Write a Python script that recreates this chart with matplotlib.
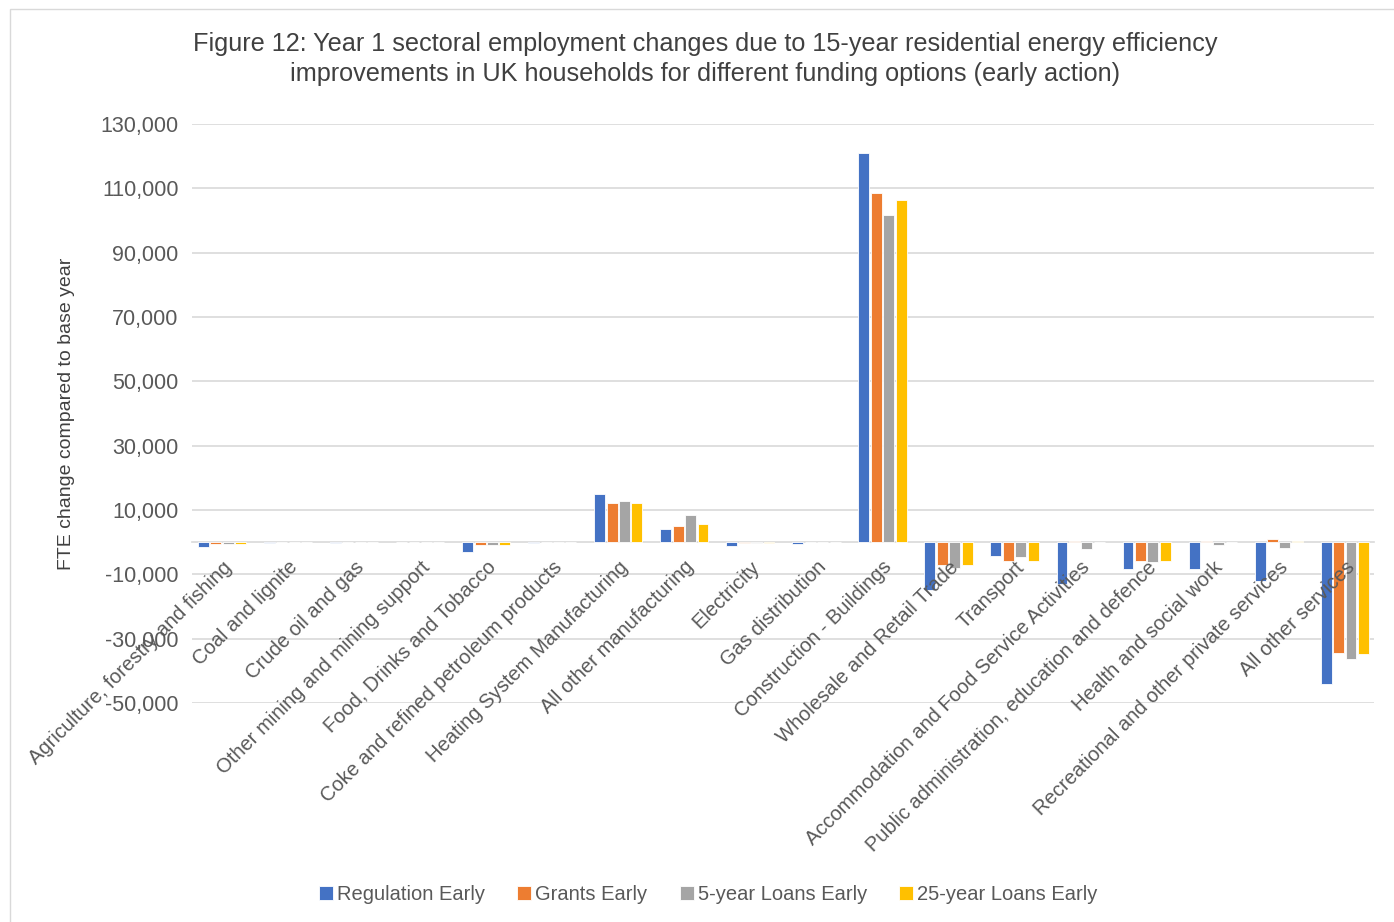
import numpy as np
import matplotlib.pyplot as plt
from matplotlib.patches import Rectangle

plt.rcParams['font.family'] = ['Liberation Sans', 'DejaVu Sans']

# sectors and values (FTE change vs base year)
sectors = ["Agriculture, forestry and fishing", "Coal and lignite", "Crude oil and gas",
           "Other mining and mining support", "Food, Drinks and Tobacco",
           "Coke and refined petroleum products", "Heating System Manufacturing",
           "All other manufacturing", "Electricity", "Gas distribution",
           "Construction - Buildings", "Wholesale and Retail Trade", "Transport",
           "Accommodation and Food Service Activities",
           "Public administration, education and defence", "Health and social work",
           "Recreational and other private services", "All other services"]

regulation = [-1500, -300, -200, 200, -3000, -200, 15100, 4000, -1100, -500,
              121100, -14900, -4400, -13000, -8400, -8200, -12000, -44000]
grants = [-600, 0, 0, 0, -800, 0, 12100, 4900, -300, 0,
          108700, -7000, -6000, 500, -5800, 400, 1100, -34600]
loans5 = [-700, 0, 0, 0, -900, 0, 12700, 8500, -300, 0,
          101700, -8100, -4700, -2000, -6100, -1000, -1800, -36300]
loans25 = [-600, 0, 0, 0, -800, 0, 12300, 5700, -300, 0,
           106300, -7100, -5700, 0, -5800, 200, 300, -34800]

series = [("Regulation Early", regulation, "#4472C4"),
          ("Grants Early", grants, "#ED7D31"),
          ("5-year Loans Early", loans5, "#A5A5A5"),
          ("25-year Loans Early", loans25, "#FFC000")]

fig = plt.figure(figsize=(13.94, 9.22), dpi=100)
ax = fig.add_axes([0.138, 0.2375, 0.848, 0.628])

x = np.arange(len(sectors))
w = 0.188
for i, (name, vals, col) in enumerate(series):
    ax.bar(x + (i - 1.5) * w, vals, width=w * 0.88, color=col, label=name,
           edgecolor='white', linewidth=0.6, zorder=3)

ax.set_xlim(-0.45, len(sectors) - 0.55)
ax.set_ylim(-50000, 130000)
yt = np.arange(-50000, 130001, 20000)
ax.set_yticks(yt)
ax.set_yticklabels([f"{v:,}" for v in yt], fontsize=15.5, color='#595959')
ax.yaxis.grid(True, color='#d9d9d9', linewidth=1.2, zorder=0)
ax.tick_params(axis='y', length=0, pad=10)

for s in ['top', 'right', 'left']:
    ax.spines[s].set_visible(False)
ax.spines['bottom'].set_position(('data', 0))
ax.spines['bottom'].set_color('#d9d9d9')
ax.spines['bottom'].set_linewidth(1.2)

ax.set_xticks(x)
ax.set_xticklabels(sectors, rotation=45, ha='right', rotation_mode='anchor',
                   fontsize=14.5, color='#595959')
ax.tick_params(axis='x', length=0, pad=11)
# sector labels sit on top of the bars, as in the original
ax.xaxis.set_zorder(4)

ax.set_ylabel("FTE change compared to base year", fontsize=14, color='#404040', labelpad=18)

fig.suptitle("Figure 12: Year 1 sectoral employment changes due to 15-year residential energy efficiency\n"
             "improvements in UK households for different funding options (early action)",
             x=0.506, y=0.965, fontsize=18.2, color='#404040', linespacing=1.3)

fig.legend(loc='lower center', bbox_to_anchor=(0.508, 0.0), ncol=4, frameon=False,
           fontsize=14.5, handlelength=0.7, handleheight=0.7, handletextpad=0.2,
           columnspacing=1.6, labelcolor='#595959')

fig.patches.append(Rectangle((0.007, -0.01), 1.0, 1.0, transform=fig.transFigure,
                             fill=False, edgecolor='#d9d9d9', linewidth=1))

fig.savefig("out.png", dpi=100)
